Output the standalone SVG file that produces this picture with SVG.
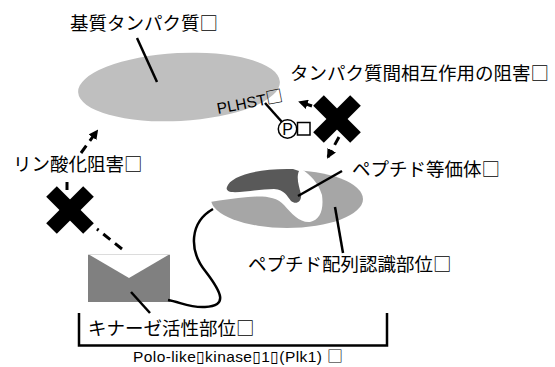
<svg xmlns="http://www.w3.org/2000/svg" width="555" height="367" viewBox="0 0 555 367">
  <style>
    .jp { font-family: "Noto Sans CJK JP", "Noto Sans", sans-serif; font-size: 18.5px; fill: #000; }
    .lat { font-family: "Liberation Sans", "DejaVu Sans", sans-serif; fill: #000; }
    .box { font-family: "Noto Sans CJK JP", sans-serif; }
    .lead { stroke: #000; stroke-width: 2.5; fill: none; }
    .dash { stroke: #000; stroke-width: 3; fill: none; stroke-dasharray: 9 6; }
  </style>
  <defs>
    <marker id="head" viewBox="0 0 10 10" refX="8" refY="5" markerWidth="3.2" markerHeight="3.2" orient="auto" markerUnits="strokeWidth">
      <path d="M0,0 L10,5 L0,10 Z" fill="#000"/>
    </marker>
    <!-- thick blocking cross, centred on the origin -->
    <g id="cross">
      <line x1="-18.5" y1="-18.5" x2="18.5" y2="18.5" stroke="#000" stroke-width="15"/>
      <line x1="18.5" y1="-18.5" x2="-18.5" y2="18.5" stroke="#000" stroke-width="15"/>
    </g>
  </defs>
  <rect width="555" height="367" fill="#fff"/>

  <!-- substrate protein -->
  <g id="substrate">
    <ellipse cx="179" cy="87" rx="101" ry="34" fill="#bfbfbf" transform="rotate(-3 179 87)"/>
    <text class="jp" x="70" y="30">基質タンパク質□</text>
    <text class="lat" font-size="15.5" transform="translate(218,114) rotate(-11)">PLHST<tspan class="box" font-size="17">□</tspan></text>
  </g>

  <!-- phosphorylated residue -->
  <g id="phospho">
    <circle cx="287.5" cy="129" r="9.2" fill="#fff" stroke="#000" stroke-width="1.5"/>
    <text class="lat" font-size="16" x="287.5" y="135" text-anchor="middle">P</text>
    <rect x="297.5" y="122.5" width="12.5" height="12.5" fill="#fff" stroke="#000" stroke-width="1.5"/>
  </g>

  <!-- protein-protein interaction inhibition -->
  <g id="ppi-block">
    <use href="#cross" transform="translate(337,119)"/>
    <text class="jp" x="290" y="80">タンパク質間相互作用の阻害□</text>
  </g>

  <!-- phosphorylation inhibition -->
  <g id="phospho-block">
    <use href="#cross" transform="translate(70,210)"/>
    <text class="jp" x="13" y="171">リン酸化阻害□</text>
  </g>

  <!-- peptide recognition site with bound peptide mimetic -->
  <g id="recognition">
    <ellipse cx="287" cy="199" rx="76" ry="29" fill="#a6a6a6"/>
    <path d="M205,160 L303,160 L303,170 C310,175 318,182 322,195 C324,210 320,220 310,222 C300,223 292,214 284,205 C276,196 262,196 248,197 C235,198 222,200 210,202 Z" fill="#fff"/>
    <text class="jp" x="248" y="271">ペプチド配列認識部位□</text>
  </g>
  <g id="peptide">
    <path d="M227,187 C230,176 258,168 293,169 L299,171 C296,178 299,186 301,194 C302,202 296,205 291,201 C287,196 285,190 274,189 C260,189 242,193 231,192 C227,191 226,189 227,187 Z" fill="#595959"/>
    <text class="jp" x="352" y="176">ペプチド等価体□</text>
  </g>

  <!-- kinase domain -->
  <g id="kinase">
    <rect x="88" y="254" width="82" height="48" fill="#808080"/>
    <path d="M88,254 L170,254 L129,278 Z" fill="#fff"/>
    <line x1="88" y1="254.5" x2="170" y2="254.5" stroke="#dcdcdc" stroke-width="1"/>
    <text class="jp" x="88" y="335" font-size="19">キナーゼ活性部位□</text>
  </g>

  <!-- whole enzyme bracket -->
  <g id="plk1">
    <path d="M79,313 L79,345.5 L387,345.5 L387,313" class="lead"/>
    <text class="lat" font-size="15.5" x="133" y="362" textLength="210" lengthAdjust="spacing">Polo-like▯kinase▯1▯(Plk1) <tspan class="box" font-size="16">□</tspan></text>
  </g>

  <g id="connectors">
    <!-- leader lines -->
    <line class="lead" x1="137" y1="38" x2="157" y2="82"/>
    <line class="lead" x1="265" y1="103" x2="282" y2="122"/>
    <line class="lead" x1="298" y1="196" x2="342" y2="171"/>
    <line class="lead" x1="335" y1="207" x2="343" y2="253"/>
    <line class="lead" x1="131" y1="292" x2="150" y2="313"/>
    <!-- linker between kinase domain and recognition site -->
    <path class="lead" d="M213,209 C190,222 188,250 206,272 C222,293 228,306 205,307 C190,308 180,302 168,300"/>
    <!-- inhibition arrows -->
    <line class="dash" x1="312" y1="106" x2="300" y2="102" marker-end="url(#head)" stroke-dasharray="10 6"/>
    <line class="dash" x1="339" y1="137" x2="328" y2="157" marker-end="url(#head)" stroke-dasharray="9 7"/>
    <line class="dash" x1="122" y1="249" x2="97" y2="229"/>
    <line class="dash" x1="67" y1="182" x2="67" y2="190"/>
    <line class="dash" x1="81" y1="153" x2="97" y2="131" marker-end="url(#head)" stroke-dasharray="12 7"/>
  </g>
</svg>
